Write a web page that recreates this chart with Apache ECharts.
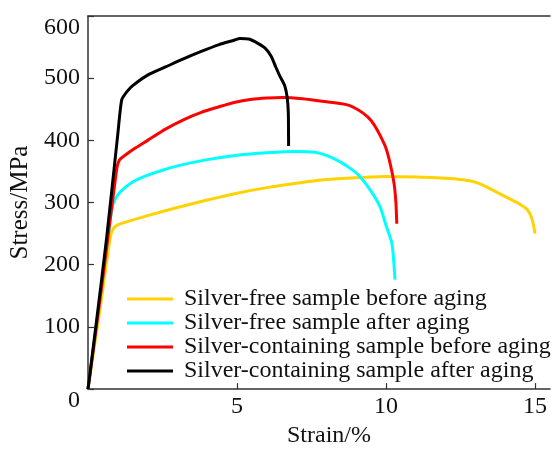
<!DOCTYPE html>
<html>
<head>
<meta charset="utf-8">
<script src="https://cdn.jsdelivr.net/npm/echarts@6/dist/echarts.min.js"></script>
<style>
  html, body { margin: 0; padding: 0; background: #fff; }
  #stress-strain-chart { width: 551px; height: 453px; }
</style>
</head>
<body>
<div id="stress-strain-chart"></div>
<script>
// series names (legend order)
const seriesNames = [
  "Silver-free sample before aging",
  "Silver-free sample after aging",
  "Silver-containing sample before aging",
  "Silver-containing sample after aging"
];

// Silver-free, before aging
const freeBeforeStrain = [0, 0.4, 0.75, 0.85, 1.0, 1.3, 2.0, 3.0, 4.0, 5.0, 6.0, 7.0, 8.0, 9.0, 10.0, 11.0, 12.0, 12.5, 12.9, 13.3, 13.7, 14.1, 14.5, 14.75, 14.9, 15.0];
const freeBeforeStress = [0, 128, 245, 258, 264, 269, 279, 292, 304, 315, 324, 331, 337, 340, 342, 341, 339, 337, 334, 327, 317, 307, 297, 288, 273, 250];

// Silver-free, after aging
const freeAfterStrain = [0, 0.4, 0.8, 0.9, 1.1, 1.5, 2.0, 2.5, 3.0, 4.0, 5.0, 6.0, 7.0, 7.6, 8.0, 8.4, 8.8, 9.1, 9.5, 9.8, 10.0, 10.2, 10.3];
const freeAfterStress = [0, 145, 290, 305, 318, 333, 344, 352, 359, 369, 376, 380, 382, 381, 376, 367, 355, 343, 318, 293, 263, 233, 176];

// Silver-containing, before aging
const agBeforeStrain = [0, 0.5, 0.95, 1.05, 1.3, 1.6, 2.0, 2.6, 3.2, 3.8, 4.4, 4.9, 5.5, 6.0, 6.5, 7.2, 8.0, 8.7, 9.1, 9.4, 9.6, 9.8, 10.0, 10.15, 10.27, 10.33, 10.36];
const agBeforeStress = [0, 180, 350, 368, 378, 388, 400, 418, 433, 445, 454, 461, 466, 468, 469, 467, 462, 457, 448, 437, 425, 408, 387, 360, 330, 300, 266];

// Silver-containing, after aging
const agAfterStrain = [0, 0.3, 0.63, 1.0, 1.13, 1.3, 1.5, 2.0, 2.6, 3.2, 3.8, 4.4, 4.9, 5.1, 5.4, 5.7, 5.95, 6.15, 6.3, 6.45, 6.6, 6.68, 6.72, 6.73];
const agAfterStress = [0, 115, 245, 410, 465, 478, 488, 505, 518, 531, 543, 554, 561, 564, 563, 556, 548, 535, 518, 502, 488, 470, 445, 391];

const xTicks = [0, 5, 10, 15];
const xLabels = [5, 10, 15];
const yTicks = [0, 100, 200, 300, 400, 500, 600];

const colors = ["#ffd200", "#00ffff", "#ff0000", "#000000"];
const font = "'Liberation Serif', 'Times New Roman', serif";

function pairs(xs, ys) {
  return xs.map((x, i) => [x, ys[i]]);
}

const curves = [
  pairs(freeBeforeStrain, freeBeforeStress),
  pairs(freeAfterStrain, freeAfterStress),
  pairs(agBeforeStrain, agBeforeStress),
  pairs(agAfterStrain, agAfterStress)
];

let myChart = echarts.init(document.getElementById("stress-strain-chart"));

let option = {
  animation: false,
  color: colors,
  grid: {
    left: 88,
    right: 1,
    top: 16,
    bottom: 59
  },
  legend: {
    orient: "vertical",
    left: 122,
    top: 282,
    icon: "rect",
    itemWidth: 46,
    itemHeight: 3,
    itemGap: 0,
    data: seriesNames,
    textStyle: {
      fontFamily: font,
      fontSize: 24,
      lineHeight: 24,
      color: "#111",
      padding: [0, 0, 0, 6]
    }
  },
  xAxis: [
    {
      type: "value",
      min: 0,
      max: 15.5,
      name: "Strain/%",
      nameLocation: "middle",
      nameGap: 34,
      nameTextStyle: {
        fontFamily: font,
        fontSize: 24,
        color: "#111",
        padding: [0, 0, 0, 20]
      },
      axisLine: { lineStyle: { color: "#333", width: 1.5 } },
      axisTick: { inside: true, length: 6, customValues: xTicks, lineStyle: { color: "#333", width: 1.2 } },
      splitLine: { show: false },
      axisLabel: {
        margin: 6,
        fontFamily: font,
        fontSize: 24,
        color: "#111",
        customValues: xLabels
      }
    },
    {
      type: "value",
      position: "top",
      min: 0,
      max: 15.5,
      axisLine: { show: true, lineStyle: { color: "#333", width: 1.5 } },
      axisTick: { show: false },
      axisLabel: { show: false },
      splitLine: { show: false }
    }
  ],
  yAxis: {
    type: "value",
    min: 0,
    max: 600,
    interval: 100,
    name: "Stress/MPa",
    nameLocation: "middle",
    nameGap: 49,
    nameTextStyle: {
      fontFamily: font,
      fontSize: 25,
      color: "#111"
    },
    axisLine: { show: true, lineStyle: { color: "#333", width: 1.5 } },
    axisTick: { inside: true, length: 6, lineStyle: { color: "#333", width: 1.2 } },
    splitLine: { show: false },
    axisLabel: {
      margin: 8,
      fontFamily: font,
      fontSize: 24,
      color: "#111",
      verticalAlignMinLabel: "top",
      verticalAlignMaxLabel: "top",
      formatter: function (v) {
        return yTicks.indexOf(v) >= 0 ? String(v) : "";
      }
    }
  },
  series: curves.map((d, i) => ({
    name: seriesNames[i],
    type: "line",
    data: d,
    showSymbol: false,
    smooth: 0.2,
    lineStyle: { width: 3, color: colors[i] },
    z: 2 + i
  }))
};

myChart.setOption(option);
</script>
</body>
</html>
